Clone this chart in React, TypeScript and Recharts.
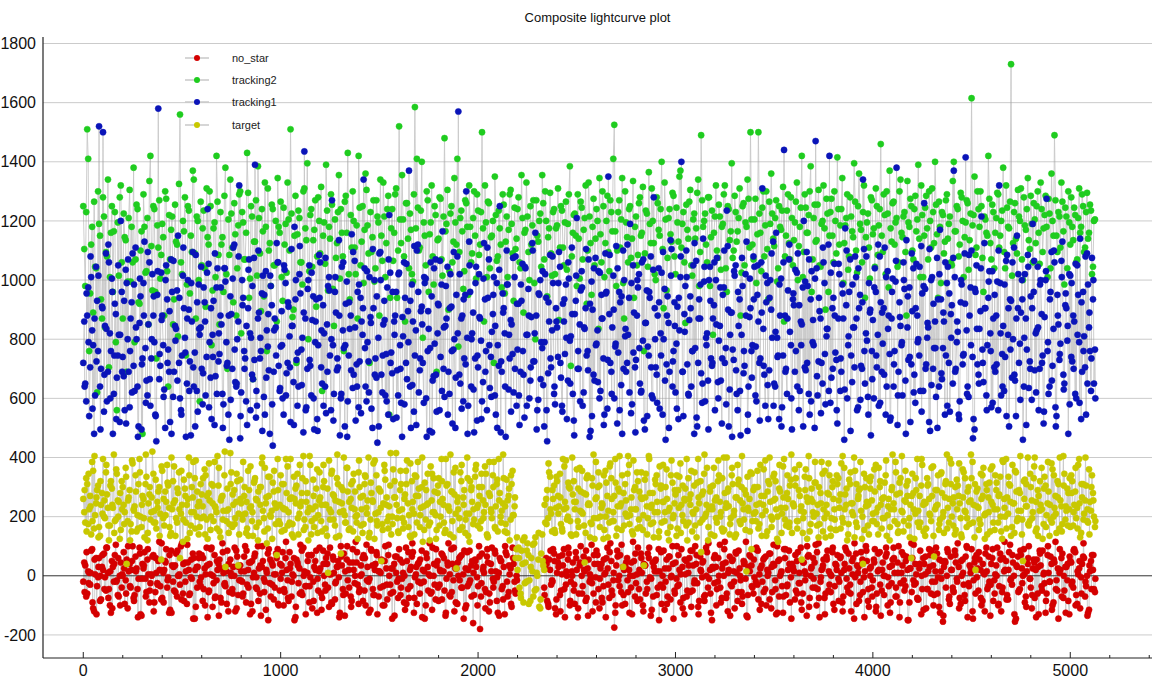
import React from "react";
import { ComposedChart, Line, XAxis, YAxis, ReferenceLine, Legend } from "recharts";

// ---- data (values read/estimated from the reference) ----
// *_A arrays: frames 0, 10, 20, ... ; *_B arrays: frames 5, 15, 25, ... ; *_C arrays: frames 7, 17, 27, ...
const FRAME_STEP = 10;
const FRAME_OFFSET_B = 5;
const FRAME_OFFSET_C = 7;

const NO_STAR_A: (number | null)[] = [
  -20, 35, -60, 10, 85, -110, 5, -35, 60, -80, 20, -5, 95, -45, -125, 30, 70, -15, -70, 45,
  0, -95, 55, 15, -40, 100, -65, 25, -10, -130, 40, 80, -55, 5, -25, 65, -90, 10, 50, -35,
  -75, 20, 90, -5, -115, 35, -50, 75, 0, -30, 110, -85, 15, 45, -60, -10, 60, -105, 30, -20,
  70, -45, 5, -140, 40, 95, -25, -70, 20, 55, -90, 10, -35, 85, -55, 0, 30, -120, 65, -15,
  15, -60, 100, -30, 45, -95, -5, 75, -45, 25, -135, 50, -20, 10, 90, -70, 35, -40, 60, -100,
  -10, 80, -55, 20, -85, 40, 5, -150, 55, -25, 105, -65, 15, -35, 70, -5, -110, 30, 85, -50,
  25, -75, 0, 60, -40, 95, -95, 10, -20, 50, -125, 35, 75, -60, -15, 45, -85, 20, 115, -30,
  -45, 5, 70, -100, 30, -10, 85, -65, 40, -130, 15, 55, -35, 100, -80, 0, 25, -55, 65, -20,
  90, -40, 10, -115, 50, -75, 30, 80, -5, -95, 45, -25, 20, -145, 60, 5, -60, 95, -30, 35,
  -85, 15, 70, -50, -10, 110, -70, 40, -120, 25, 0, 65, -40, 85, -100, 20, -15, 50, -65, 30,
  -35, -180, 75, 10, -55, 45, -90, 95, -20, 15, -125, 60, -45, 30, 80, -70, 5, -105, 40, -60,
  null, null, null, null, null, null, null, null, null, null, null, null, null, null, 25, -85, 55, -30, 90, -110,
  10, 65, -50, 35, -140, 0, 75, -20, 45, -95, 20, -60, 100, -35, 15, -75, 55, -10, -120, 40,
  85, -45, 25, -90, 5, 60, -30, 110, -65, -175, 35, -15, 70, -100, 20, 45, -55, 0, -130, 50,
  -25, 95, -80, 10, 40, -60, 75, -5, -115, 30, 55, -40, 15, -95, 85, -20, -70, 65, 0, -145,
  45, -35, 20, 90, -75, 5, -50, 60, -105, 35, 100, -25, -85, 15, 50, -65, 80, -10, -125, 25,
  70, -45, 0, -90, 40, 115, -60, 20, -30, 55, -110, 10, 85, -15, -70, 45, -135, 30, 65, -40,
  -5, 95, -80, 25, -20, 60, -100, 10, 75, -55, 35, -130, 50, 0, -35, 90, -65, 20, -90, 40,
  15, -50, 80, -25, -115, 45, 5, 65, -75, 30, -10, 105, -45, -140, 20, 55, -60, 85, -30, 0,
  -95, 40, 70, -20, 10, -70, 95, -40, 25, -120, 60, -5, 35, -85, 80, -55, 15, 50, -105, 30,
  -15, 90, -60, 20, -135, 45, 0, 75, -35, -90, 55, 10, -70, 100, -25, 35, -50, 65, -150, 25,
  60, -30, 5, -80, 85, -45, 40, -110, 15, 70, -20, -65, 95, -5, -125, 50, 30, -40, 80, -95,
  20, -55, 45, 110, -75, 0, -30, 65, -140, 35, 90, -15, -60, 25, 55, -100, 10, 75, -45, -20,
  40, -85, 5, 95, -35, -120, 60, 20, -65, 80, -10, 45, -155, 30, -50, 70, 0, -90, 15, 100,
  -40, 25, -75, 55, -130, 35, 85, -25, -60, 10, 65, -100, 45, -15, -145, 20, 75, -50, 30, -85,
  50, -20, 90, -65, 5, -110, 40, 60, -35, -125, 15, 70, -45,
];

const NO_STAR_B: (number | null)[] = [
  45, -70, 15, -30, 90, -120, 60, -5, -85, 30, 75, -50, 10, -100, 50, -20, 105, -65, 0, -40,
  80, -15, -110, 40, 20, -75, 65, -45, 95, -135, 25, -10, 55, -90, 5, 70, -55, -25, 115, -80,
  10, 50, -40, -125, 85, -20, 35, -70, 0, 100, -60, 45, -95, 20, -5, 75, -145, 30, 60, -35,
  -85, 25, 95, -55, 5, -105, 70, -15, 40, -75, 110, -30, 15, -120, 55, -45, 0, 85, -65, 35,
  -20, 65, -90, 20, -130, 50, 10, -40, 100, -60, 30, -10, -115, 75, -25, 45, -80, 5, 90, -50,
  35, -100, 60, -15, 80, -70, 0, -140, 45, 25, -55, 95, -35, 10, -90, 70, -20, 50, -125, 15,
  -60, 85, -30, 40, -105, 5, 65, -80, 30, -5, 100, -45, -135, 55, 20, -70, 90, -25, 45, -95,
  0, 60, -50, 105, -20, -115, 35, -65, 80, 15, -40, 50, -100, 25, 70, -30, -145, 40, 10, -75,
  55, -10, -90, 95, -45, 20, 65, -125, 5, 40, -60, 85, -20, -100, 30, 110, -55, 0, -80, 50,
  -30, 75, 15, -135, 45, -65, 90, -15, 25, -95, 60, -40, 5, -110, 80, -25, 35, -160, 55, -5,
  100, -70, 20, -45, 65, -120, 40, -10, 85, -85, 10, 50, -35, -130, 70, -55, 25, 95, -20, 0,
  null, null, null, null, null, null, null, null, null, null, null, null, null, -40, 60, -95, 20, -15, 75, -130,
  45, -65, 5, 90, -30, 55, -100, 15, -50, 80, -140, 35, 0, 65, -85, 25, -20, 105, -60, -5,
  70, -110, 40, -35, 10, 95, -75, 50, -15, -125, 85, 0, -55, 30, -95, 60, 20, -40, 115, -70,
  5, -45, 75, -100, 35, -20, 60, -135, 45, 15, -65, 90, -30, 0, -115, 55, 25, -80, 100, -50,
  -10, 70, -90, 30, -130, 50, 10, -55, 85, -25, 40, -105, 65, -5, -70, 95, -40, 20, -150, 60,
  30, -20, 105, -75, 0, 45, -120, 65, -35, 15, 80, -85, 25, -55, 50, -10, -140, 70, 35, -60,
  90, -30, 5, -95, 55, -45, 20, 75, -110, 40, -15, 100, -70, 10, -125, 60, -35, 85, -5, 30,
  -80, 50, -25, 95, -60, 15, -135, 70, 0, -40, 45, -100, 110, -20, 25, -75, 65, -50, 5, 80,
  -115, 35, -10, 60, -90, 20, 85, -55, -30, 50, -145, 75, 10, -65, 40, -5, 100, -85, 25, -40,
  55, -120, 15, 80, -50, 0, 65, -100, 30, -25, 95, -70, 45, -140, 10, 70, -35, 20, -90, 110,
  -15, 40, -75, 25, -130, 60, 5, -45, 90, -60, 35, -20, 75, -105, 15, -155, 50, 0, -80, 65,
  -40, 85, -10, 30, -95, 55, -65, 100, -25, 10, -120, 45, 70, -50, 20, -85, 5, 95, -35, -135,
  60, -15, 35, -100, 75, -55, 15, 50, -80, 105, -30, 0, -145, 65, -45, 25, 90, -70, 40, -10,
  -110, 55, 20, -60, 85, -35, 5, -125, 70, -20, 40, -90, 115, -50, 10, 60, -75, 30, -15, -130,
  45, -40, 80, -95, 25, -5, 65, -70, 0, -115, 50, 20, -55,
];

const NO_STAR_C: (number | null)[] = [
  -55, 80, -25, 10, -90, 55, -130, 30, 0, 70, -45, 95, -75, 15, -110, 40, -20, 60, -100, 5,
  25, -60, 100, -35, 50, -85, 15, -140, 75, -10, 35, -70, 90, -50, 0, -120, 60, -30, 20, 110,
  -90, 45, -15, 70, -125, 30, -55, 85, 5, -80, 40, -20, 105, -65, 55, -145, 20, -40, 75, -5,
  60, -100, 35, -50, 90, 0, -75, 50, -135, 25, 80, -25, -95, 40, 10, -60, 95, -110, 30, -15,
  -70, 15, 85, -40, 45, -120, 65, -5, -85, 35, 100, -55, 20, -150, 55, -30, 5, 75, -95, 40,
  10, -45, 115, -75, 25, -20, 60, -105, 35, -60, 85, 0, -130, 50, -35, 70, -85, 20, -10, 95,
  -115, 40, -50, 75, 5, -90, 55, -25, 30, -140, 65, -65, 15, 100, -40, -105, 45, 0, 80, -55,
  35, -85, 60, -15, -125, 90, -45, 20, 70, -70, 10, -100, 50, -30, 105, -60, 25, -135, 65, -10,
  -65, 45, 0, -95, 80, -35, 110, -75, 30, -20, 55, -140, 15, 75, -50, 0, -115, 40, 90, -40,
  20, -80, 60, -125, 35, 5, -55, 95, -90, 45, -15, 70, -145, 25, -35, 85, -70, 10, 50, -100,
  65, -25, 30, -110, 90, -60, 15, -40, 75, -5, -135, 50, -80, 100, -20, 35, -95, 60, -50, -15,
  null, null, null, null, null, null, null, null, null, null, null, null, null, -65, 40, -105, 85, -20, 50, -80,
  30, -120, 70, -45, 15, 95, -85, 0, -30, 60, -110, 45, -60, 20, 85, -135, 5, -25, 70, -90,
  40, -10, -75, 55, -140, 25, 80, -50, 10, -100, 65, -35, 105, -65, 30, -15, -125, 45, 0, 75,
  -85, 20, 60, -120, 35, -45, 95, -10, -70, 50, 15, -150, 80, -40, 25, -95, 65, -5, 40, -60,
  100, -30, 5, -110, 55, -70, 35, 85, -50, -15, 70, -130, 20, 45, -85, 0, 110, -60, 30, -25,
  -100, 60, -40, 25, 90, -75, 10, -135, 50, -20, 75, -55, 0, -95, 40, 115, -65, 15, -35, 55,
  -20, 85, -115, 35, -55, 65, 0, -80, 30, 105, -45, -125, 55, 15, -70, 90, -30, 40, -145, 20,
  70, -60, 10, -90, 45, -15, 100, -105, 25, 60, -40, 80, -75, -5, 35, -130, 55, 15, -55, 95,
  -35, 20, -85, 65, -120, 40, -10, 75, -60, 5, 110, -95, 30, -20, 55, -140, 85, -45, 0, -70,
  45, -105, 75, -30, 20, -65, 95, -5, -125, 35, 60, -40, 10, -90, 80, -15, 50, -150, 25, -55,
  105, -25, -80, 40, 0, -115, 65, -45, 30, 85, -100, 15, -60, 55, -10, -135, 45, 90, -70, 20,
  -50, 70, -20, -110, 50, 10, -85, 95, -35, 25, -145, 60, -5, 80, -75, 40, -120, 15, 65, -30,
  90, -60, 0, -95, 55, -40, 115, -80, 20, -15, 70, -130, 35, -55, 85, -25, 5, -105, 60, -10,
  -65, 45, -140, 30, 75, -50, 10, -85, 100, -20, -115, 55, -45, 25, 90, -70, 0, -125, 40, 65,
  -30, 85, -100, 15, 50, -60, 110, -20, -135, 35, -45, 70, -10,
];

const TARGET_A: number[] = [
  260, 180, 310, 225, 140, 355, 205, 290, 165, 240, 395, 195, 275, 120, 320, 230, 185, 345, 250, 155,
  300, 215, 40, 265, 175, 380, 235, 150, 310, 200, 270, 130, 335, 245, 190, 420, 220, 160, 285, 210,
  355, 170, 250, 305, 135, 225, 370, 195, 280, 60, 240, 325, 180, 260, 145, 300, 215, 390, 235, 165,
  275, 200, 340, 125, 255, 310, 185, 230, 405, 150, 265, 220, 30, 295, 175, 350, 240, 195, 320, 140,
  245, 385, 210, 160, 290, 235, 135, 330, 255, 180, 300, 220, 365, 110, 270, 200, 315, 245, 70, 185,
  340, 230, 155, 280, 215, 395, 175, 260, 305, 140, 235, 330, 190, 250, 120, 375, 225, 165, 295, 205,
  265, 150, 320, 240, 10, 190, 355, 270, 130, 310, 215, 245, 400, 180, 285, 160, 230, 345, 200, 125,
  300, 225, 175, 335, 255, 145, 280, 380, 210, 170, 290, 50, 245, 325, 185, 235, 140, 360, 265, 195,
  220, 310, 160, 275, 390, 205, 130, 250, 340, 180, 295, 230, 115, 315, 240, 170, 370, 215, 285, 155,
  330, 200, 260, 145, 305, 235, 410, 185, 275, 25, 225, 350, 165, 290, 210, 135, 320, 250, 190, 375,
  240, 160, 300, 215, 345, 130, 270, 195, 385, 235, 150, 280, 220, 330, 175, 255, 120, 310, 205, 60,
  20, -40, 85, -90, 45, 110, -15, 60, -70, 130, 0, -105, 75, 35, 180, 290, 350, 210, 260, 145,
  320, 235, 175, 395, 250, 190, 300, 140, 275, 225, 360, 165, 285, 210, 45, 330, 245, 180, 305, 125,
  265, 350, 200, 240, 155, 315, 220, 380, 185, 270, 135, 295, 235, 340, 170, 255, 405, 205, 150, 290,
  225, 320, 165, 260, 35, 345, 195, 280, 240, 130, 310, 215, 370, 180, 250, 300, 145, 230, 390, 205,
  275, 160, 335, 240, 185, 295, 120, 260, 355, 210, 170, 315, 245, 80, 285, 200, 365, 225, 140, 305,
  255, 180, 340, 215, 150, 280, 400, 235, 195, 310, 130, 265, 325, 175, 245, 290, 15, 220, 350, 185,
  300, 240, 160, 375, 205, 270, 135, 320, 250, 190, 345, 225, 115, 285, 210, 395, 170, 260, 305, 145,
  235, 330, 185, 270, 55, 215, 360, 250, 150, 295, 200, 315, 240, 175, 385, 225, 130, 280, 340, 195,
  260, 155, 310, 230, 380, 180, 275, 120, 325, 245, 205, 355, 165, 290, 220, 40, 300, 250, 140, 335,
  210, 285, 175, 365, 240, 195, 315, 135, 260, 225, 410, 185, 275, 150, 330, 215, 255, 305, 170, 240,
  345, 125, 290, 220, 180, 375, 250, 160, 310, 205, 270, 65, 235, 340, 190, 280, 145, 320, 230, 395,
  200, 265, 155, 305, 245, 130, 350, 215, 285, 175, 330, 240, 20, 295, 190, 260, 365, 210, 140, 315,
  250, 180, 340, 225, 275, 150, 385, 200, 265, 310, 135, 245, 355, 185, 290, 220, 50, 325, 235, 170,
  300, 215, 400, 160, 270, 240, 125, 335, 205, 285, 190, 360, 230, 145, 310, 255, 175, 345, 220, 280,
  165, 320, 240, 195, 375, 130, 265, 210, 305, 180, 250, 340, 200,
];

const TARGET_B: number[] = [
  215, 330, 175, 270, 385, 160, 245, 305, 135, 280, 200, 350, 230, 170, 295, 410, 190, 255, 125, 320,
  240, 365, 185, 290, 150, 225, 340, 205, 395, 165, 260, 310, 120, 275, 215, 345, 180, 250, 300, 55,
  195, 285, 375, 230, 145, 320, 255, 180, 350, 210, 115, 295, 240, 400, 170, 265, 330, 200, 140, 310,
  235, 360, 190, 280, 155, 245, 385, 215, 305, 130, 270, 340, 185, 225, 415, 165, 290, 250, 35, 325,
  205, 270, 145, 355, 230, 185, 315, 260, 120, 300, 380, 195, 245, 160, 335, 220, 285, 175, 395, 240,
  150, 310, 225, 370, 180, 265, 130, 295, 345, 210, 250, 405, 165, 280, 230, 140, 325, 195, 360, 255,
  185, 300, 240, 135, 390, 215, 275, 170, 330, 250, 75, 290, 205, 365, 155, 260, 320, 225, 180, 350,
  265, 145, 310, 230, 400, 190, 255, 125, 340, 215, 285, 175, 375, 240, 160, 305, 200, 265, 415, 150,
  290, 225, 180, 355, 245, 135, 320, 210, 270, 385, 165, 300, 235, 190, 345, 120, 255, 330, 205, 280,
  170, 395, 240, 155, 310, 220, 285, 130, 365, 250, 195, 320, 265, 145, 400, 210, 290, 175, 335, 230,
  300, 185, 255, 370, 140, 280, 225, 340, 165, 310, 395, 200, 245, 150, 325, 270, 190, 355, 235, 90,
  95, -60, 40, 130, -20, 70, -85, 15, 110, -45, 55, -110, 140, 20, 260, 195, 335, 150, 305, 230,
  270, 345, 160, 225, 390, 200, 295, 135, 320, 250, 185, 365, 215, 280, 145, 340, 240, 175, 410, 260,
  195, 305, 230, 125, 355, 270, 180, 330, 215, 395, 160, 285, 245, 30, 310, 200, 375, 225, 140, 300,
  350, 190, 265, 155, 325, 235, 405, 175, 280, 215, 340, 130, 295, 250, 185, 360, 220, 165, 315, 245,
  135, 290, 380, 205, 260, 170, 330, 240, 150, 305, 225, 395, 180, 275, 345, 210, 120, 285, 235, 365,
  195, 320, 250, 160, 400, 230, 285, 140, 340, 205, 265, 375, 185, 300, 225, 155, 335, 260, 90, 290,
  215, 355, 175, 270, 240, 390, 150, 310, 200, 335, 260, 125, 295, 230, 370, 190, 280, 165, 325, 245,
  360, 185, 290, 220, 145, 335, 265, 405, 175, 250, 315, 210, 130, 280, 345, 195, 240, 380, 160, 300,
  225, 155, 330, 275, 195, 365, 240, 140, 310, 215, 400, 180, 260, 295, 125, 345, 235, 170, 320, 255,
  185, 375, 230, 300, 160, 265, 340, 205, 120, 290, 245, 385, 175, 315, 220, 150, 355, 270, 195, 60,
  280, 210, 395, 165, 305, 240, 135, 330, 260, 185, 370, 225, 290, 155, 345, 200, 265, 410, 180, 310,
  245, 140, 325, 270, 195, 360, 220, 165, 300, 255, 385, 130, 285, 230, 175, 340, 205, 310, 265, 150,
  370, 225, 290, 180, 335, 125, 260, 395, 210, 305, 165, 245, 350, 195, 280, 140, 320, 235, 400, 185,
  255, 330, 150, 290, 220, 365, 175, 305, 245, 135, 380, 200, 270, 320, 160, 235, 405, 190, 295, 225,
  340, 170, 285, 230, 395, 145, 310, 255, 185, 360, 220, 280, 165,
];

const TARGET_C: number[] = [
  290, 150, 345, 235, 185, 405, 265, 130, 320, 210, 255, 375, 170, 305, 240, 145, 360, 200, 280, 225,
  175, 335, 255, 120, 390, 220, 285, 160, 350, 240, 195, 410, 145, 300, 265, 180, 325, 230, 135, 370,
  260, 205, 315, 165, 400, 245, 135, 295, 225, 355, 190, 270, 125, 340, 215, 385, 160, 285, 250, 195,
  330, 140, 270, 380, 200, 305, 235, 160, 365, 255, 190, 420, 220, 145, 310, 275, 175, 345, 210, 260,
  190, 300, 250, 135, 370, 215, 320, 165, 285, 240, 400, 150, 265, 335, 205, 125, 355, 230, 290, 175,
  310, 225, 395, 170, 260, 140, 335, 245, 195, 375, 280, 155, 320, 215, 405, 185, 270, 235, 145, 350,
  240, 375, 160, 295, 225, 345, 190, 255, 410, 135, 300, 220, 180, 365, 250, 310, 150, 285, 205, 390,
  170, 270, 340, 210, 130, 315, 250, 390, 185, 295, 230, 155, 355, 265, 200, 415, 175, 320, 240, 145,
  355, 195, 260, 310, 165, 380, 225, 140, 335, 270, 205, 400, 155, 290, 245, 180, 345, 215, 125, 305,
  250, 320, 180, 395, 230, 140, 285, 350, 210, 265, 155, 375, 240, 190, 330, 115, 300, 225, 360, 170,
  270, 345, 195, 240, 135, 385, 215, 300, 160, 325, 255, 180, 410, 235, 145, 295, 340, 205, 265, 130,
  60, -75, 120, -25, 85, -95, 30, 105, -50, 10, 145, -80, 50, 240, 175, 380, 225, 290, 155, 335,
  210, 265, 150, 370, 230, 315, 185, 400, 250, 140, 295, 220, 355, 170, 275, 240, 130, 330, 195, 385,
  300, 165, 245, 340, 200, 130, 370, 260, 185, 315, 235, 405, 155, 280, 210, 345, 175, 265, 390, 225,
  160, 285, 350, 205, 265, 140, 395, 230, 180, 325, 250, 150, 305, 375, 215, 260, 120, 340, 195, 290,
  340, 230, 145, 305, 255, 395, 180, 275, 215, 350, 130, 265, 320, 190, 410, 240, 165, 300, 225, 135,
  265, 390, 200, 330, 155, 245, 295, 175, 365, 220, 140, 310, 255, 405, 190, 275, 230, 150, 345, 210,
  185, 300, 245, 135, 360, 220, 285, 400, 165, 255, 320, 200, 375, 145, 265, 230, 340, 180, 410, 240,
  305, 160, 375, 235, 195, 290, 125, 330, 260, 215, 385, 170, 300, 245, 150, 355, 210, 275, 135, 320,
  190, 340, 255, 160, 405, 225, 295, 175, 350, 245, 130, 310, 270, 385, 200, 155, 330, 240, 295, 185,
  360, 215, 140, 320, 260, 195, 390, 235, 165, 300, 225, 350, 145, 280, 405, 185, 250, 320, 130, 270,
  225, 330, 180, 270, 395, 150, 245, 305, 210, 365, 135, 290, 240, 175, 350, 215, 310, 160, 260, 380,
  170, 300, 225, 380, 140, 265, 330, 195, 250, 410, 180, 310, 235, 155, 345, 270, 125, 290, 215, 360,
  240, 155, 315, 270, 200, 390, 230, 160, 335, 250, 375, 145, 285, 220, 405, 190, 260, 310, 175, 345,
  195, 370, 250, 135, 320, 225, 295, 165, 385, 240, 180, 340, 210, 265, 400, 150, 305, 235, 170, 330,
  280, 215, 365, 160, 245, 310, 190, 400, 225, 140, 300, 255, 185,
];

const TRACKING1_A: number[] = [
  720, 650, 880, 540, 1010, 780, 610, 930, 1520, 700, 1500, 845, 590, 1060, 760, 480, 920, 670, 815, 1200,
  740, 560, 990, 690, 870, 1090, 625, 800, 505, 945, 735, 1130, 660, 850, 575, 1020, 790, 455, 1580, 710,
  880, 630, 1050, 765, 520, 960, 690, 835, 1150, 600, 745, 905, 470, 1000, 725, 860, 640, 1085, 555, 815,
  700, 975, 610, 1240, 790, 530, 930, 675, 1040, 750, 850, 580, 995, 720, 460, 885, 1110, 655, 800, 1320,
  620, 940, 735, 510, 1070, 805, 665, 1390, 575, 890, 760, 1015, 545, 830, 695, 980, 440, 870, 1125, 710,
  775, 600, 1035, 685, 910, 520, 845, 1180, 730, 640, 955, 805, 1435, 570, 1000, 710, 865, 495, 935, 780,
  1060, 650, 820, 550, 980, 745, 1270, 615, 890, 705, 475, 1045, 770, 920, 590, 835, 1155, 680, 525, 960,
  725, 860, 1340, 640, 790, 1010, 565, 905, 735, 450, 1090, 680, 850, 610, 975, 1220, 755, 530, 880, 695,
  1025, 585, 810, 940, 665, 1370, 500, 860, 745, 1100, 620, 895, 720, 990, 470, 835, 1060, 660, 785, 555,
  915, 740, 1165, 605, 870, 690, 1020, 515, 800, 950, 1570, 650, 880, 735, 1300, 575, 960, 820, 485, 1045,
  705, 870, 590, 1125, 760, 940, 635, 825, 1010, 545, 780, 1250, 690, 905, 470, 985, 735, 850, 620, 1080,
  765, 510, 930, 680, 1040, 815, 600, 875, 725, 1160, 560, 950, 790, 645, 1020, 455, 860, 705, 990, 580,
  840, 1095, 670, 920, 750, 530, 1005, 810, 615, 885, 1210, 700, 965, 575, 835, 745, 1070, 490, 900, 660,
  785, 1030, 625, 870, 545, 960, 1350, 720, 840, 600, 1115, 755, 925, 480, 1000, 690, 815, 1190, 580, 890,
  730, 975, 650, 1060, 525, 855, 775, 940, 610, 1280, 705, 880, 565, 1025, 800, 460, 945, 690, 1105, 760,
  620, 910, 830, 1400, 540, 980, 715, 865, 640, 1050, 770, 505, 935, 685, 1140, 590, 820, 1000, 735, 870,
  560, 1075, 795, 660, 950, 720, 1235, 505, 890, 765, 1015, 615, 845, 475, 980, 710, 1130, 640, 905, 780,
  1045, 590, 860, 735, 1310, 680, 925, 530, 1000, 805, 650, 1160, 745, 880, 570, 1440, 700, 965, 825, 495,
  915, 760, 1090, 625, 850, 1200, 695, 980, 545, 1030, 780, 1470, 610, 895, 720, 1060, 580, 835, 1420, 670,
  940, 755, 515, 1020, 690, 870, 1175, 600, 960, 745, 840, 1080, 560, 905, 710, 1340, 650, 795, 990, 475,
  865, 1040, 705, 575, 925, 785, 1110, 640, 880, 535, 1005, 760, 1380, 690, 845, 610, 970, 1135, 730, 520,
  895, 680, 1055, 800, 625, 955, 1260, 715, 840, 490, 1010, 770, 605, 935, 1170, 665, 860, 745, 1045, 555,
  915, 1370, 700, 825, 590, 985, 750, 1415, 640, 880, 1100, 530, 960, 715, 835, 1215, 655, 905, 780, 1030,
  570, 870, 690, 995, 1320, 610, 845, 740, 1085, 505, 930, 800, 660, 1150, 720, 890, 460, 1020, 765, 635,
  945, 1190, 695, 830, 560, 1000, 745, 875, 1275, 615, 960, 710, 1060, 540, 850, 785, 1130, 650, 905, 480,
  1015, 725, 860, 600, 950, 1140, 690, 810, 545, 985, 760, 1075, 650,
];

const TRACKING1_B: number[] = [
  860, 590, 975, 705, 830, 480, 1045, 760, 640, 910, 555, 1090, 690, 820, 1005, 615, 885, 745, 520, 960,
  675, 1035, 800, 570, 925, 710, 1110, 640, 855, 495, 990, 770, 610, 1060, 735, 880, 545, 950, 665, 1025,
  780, 500, 935, 690, 1070, 605, 845, 965, 720, 560, 1015, 805, 650, 900, 475, 1095, 755, 625, 985, 840,
  580, 925, 740, 1055, 670, 815, 510, 975, 725, 880, 615, 1040, 790, 545, 945, 700, 1120, 640, 860, 465,
  1000, 760, 590, 905, 820, 680, 1075, 535, 870, 735, 955, 605, 1030, 775, 480, 915, 690, 840, 1060, 625,
  895, 545, 990, 720, 810, 1105, 655, 935, 575, 1020, 765, 485, 870, 700, 1050, 610, 945, 790, 530, 1085,
  705, 915, 640, 850, 1010, 560, 780, 960, 695, 1135, 600, 830, 505, 995, 745, 880, 635, 1065, 715, 570,
  940, 815, 1040, 590, 725, 875, 500, 1000, 670, 805, 1095, 620, 930, 750, 545, 1025, 685, 860, 960, 610,
  780, 470, 1060, 720, 895, 640, 985, 555, 830, 1120, 695, 910, 585, 1005, 760, 490, 945, 675, 1070, 820,
  560, 985, 700, 845, 1045, 615, 910, 765, 500, 1080, 680, 870, 590, 950, 805, 1130, 640, 890, 735, 525,
  1020, 795, 655, 935, 560, 1070, 740, 885, 610, 990, 710, 485, 955, 820, 1100, 630, 865, 750, 1010, 575,
  920, 690, 1055, 535, 815, 970, 660, 1125, 725, 880, 595, 1000, 770, 505, 940, 685, 1085, 830, 615, 905,
  740, 1045, 575, 860, 985, 660, 795, 1110, 525, 930, 700, 850, 1030, 620, 905, 760, 470, 995, 680, 1075,
  830, 600, 950, 735, 1090, 565, 885, 690, 1015, 775, 515, 960, 645, 1100, 810, 720, 940, 550, 1050, 705,
  880, 1020, 620, 795, 495, 965, 745, 1080, 600, 905, 680, 1040, 820, 545, 970, 715, 855, 1135, 640, 925,
  785, 530, 1010, 690, 885, 1100, 615, 945, 760, 480, 1065, 720, 870, 585, 995, 805, 660, 1045, 710, 915,
  1000, 655, 845, 515, 975, 770, 1115, 630, 890, 730, 1050, 560, 935, 815, 685, 1020, 490, 875, 760, 1080,
  610, 950, 720, 1060, 835, 575, 990, 695, 900, 1130, 640, 805, 530, 1005, 745, 880, 615, 1070, 780, 935,
  690, 1025, 560, 860, 975, 705, 1095, 615, 935, 790, 500, 1040, 725, 870, 650, 990, 810, 1120, 585, 905,
  1055, 730, 870, 625, 985, 460, 915, 780, 1070, 655, 840, 1010, 570, 950, 700, 1105, 820, 605, 890, 760,
  600, 960, 815, 1080, 690, 905, 545, 1030, 750, 870, 640, 995, 510, 925, 780, 1060, 660, 840, 975, 715,
  1040, 585, 880, 745, 1115, 625, 970, 805, 520, 1000, 700, 860, 1075, 640, 935, 770, 545, 990, 720, 885,
  650, 1010, 790, 545, 925, 715, 1090, 830, 605, 975, 740, 495, 1050, 680, 895, 765, 1125, 610, 940, 820,
  1030, 705, 880, 560, 990, 750, 625, 1065, 815, 935, 670, 1110, 540, 905, 785, 1000, 640, 870, 1085, 725,
  595, 960, 820, 1045, 700, 885, 515, 1000, 760, 640, 1095, 835, 570, 950, 730, 1065, 680, 915, 795, 1020,
  740, 880, 615, 1050, 790, 530, 960, 705, 1090, 840, 625, 935, 765,
];

const TRACKING1_C: number[] = [
  640, 955, 790, 1080, 565, 870, 725, 1015, 495, 905, 680, 835, 1120, 600, 960, 745, 530, 1050, 815, 690,
  930, 515, 1070, 760, 620, 985, 840, 470, 1005, 715, 880, 585, 1095, 665, 800, 945, 540, 1030, 750, 865,
  605, 1000, 720, 895, 480, 1065, 795, 660, 940, 545, 1110, 755, 870, 625, 990, 705, 505, 925, 835, 1045,
  685, 860, 1025, 570, 905, 740, 1090, 615, 820, 975, 500, 1040, 710, 880, 595, 1005, 765, 650, 1080, 540,
  915, 700, 845, 1035, 560, 980, 730, 625, 1100, 805, 490, 950, 670, 885, 1015, 580, 830, 745, 1060, 635,
  780, 1050, 610, 925, 705, 845, 510, 1000, 755, 1115, 645, 890, 560, 970, 730, 1025, 600, 860, 490, 940,
  830, 575, 1075, 690, 965, 800, 525, 1010, 735, 880, 615, 1060, 780, 470, 925, 695, 1095, 840, 640, 985,
  550, 905, 770, 1030, 620, 855, 1105, 680, 945, 505, 1000, 745, 865, 590, 1070, 720, 960, 815, 535, 1020,
  700, 875, 580, 1055, 790, 930, 645, 1115, 510, 960, 735, 850, 1010, 600, 895, 770, 485, 1040, 680, 920,
  1065, 625, 840, 980, 545, 905, 760, 1095, 670, 820, 1020, 565, 935, 715, 480, 1050, 800, 630, 990, 745,
  875, 530, 1005, 690, 1110, 780, 605, 950, 845, 500, 1035, 725, 890, 640, 985, 815, 555, 1075, 700, 920,
  610, 985, 760, 1045, 575, 880, 705, 1100, 820, 495, 955, 665, 1030, 790, 560, 925, 735, 1080, 640, 860,
  990, 720, 555, 935, 805, 1060, 650, 885, 475, 1015, 760, 590, 975, 840, 1105, 695, 920, 540, 1040, 780,
  655, 1025, 870, 510, 955, 730, 1085, 615, 900, 785, 1040, 560, 945, 700, 835, 1120, 620, 990, 755, 485,
  1000, 770, 625, 1070, 855, 540, 960, 705, 1035, 800, 585, 925, 745, 1095, 660, 880, 500, 1015, 725, 845,
  565, 940, 1080, 690, 825, 1010, 610, 905, 760, 1125, 535, 870, 985, 650, 1045, 780, 495, 930, 720, 1060,
  850, 600, 975, 735, 1100, 580, 900, 815, 470, 1030, 695, 960, 625, 1075, 760, 880, 545, 1005, 670, 935,
  775, 1050, 525, 890, 710, 1015, 645, 940, 1090, 575, 825, 740, 985, 505, 1060, 690, 870, 1120, 600, 955,
  1035, 640, 915, 780, 505, 995, 720, 1070, 590, 865, 1005, 675, 940, 550, 1110, 750, 835, 625, 1025, 700,
  880, 560, 1055, 735, 955, 630, 1100, 810, 490, 985, 705, 870, 1040, 595, 925, 760, 1080, 545, 900, 665,
  975, 745, 1120, 585, 890, 680, 1010, 835, 525, 960, 715, 1065, 610, 875, 790, 1000, 480, 945, 740, 1090,
  620, 905, 790, 1045, 555, 980, 700, 855, 1105, 645, 920, 770, 500, 1020, 685, 890, 1060, 575, 955, 805,
  1075, 690, 860, 530, 1000, 745, 920, 615, 1085, 780, 465, 970, 835, 650, 1040, 720, 905, 560, 995, 760,
  585, 950, 715, 1100, 820, 640, 985, 540, 905, 765, 1060, 680, 870, 1020, 595, 935, 805, 510, 1045, 700,
  905, 1065, 620, 840, 985, 720, 555, 1030, 790, 935, 660, 1100, 505, 880, 750, 1010, 630, 955, 845, 580,
  990, 700, 1055, 815, 585, 925, 760, 1080, 650, 890, 735, 1000, 600,
];

const TRACKING2_A: number[] = [
  1250, 980, 1510, 760, 1120, 890, 1045, 620, 1190, 935, 1280, 840, 1080, 705, 1160, 960, 1230, 560, 1015, 1320,
  870, 1145, 690, 1210, 995, 1060, 790, 1255, 925, 1100, 480, 1180, 1030, 850, 1420, 965, 1240, 735, 1110, 1005,
  1190, 880, 1275, 640, 1070, 1215, 935, 1130, 810, 1560, 1020, 1165, 745, 1250, 955, 1095, 1340, 870, 1200, 590,
  1050, 1235, 910, 1145, 1300, 780, 1175, 1010, 1265, 850, 1120, 960, 1380, 700, 1085, 1225, 925, 1155, 1040, 1290,
  820, 1195, 1070, 1430, 940, 1250, 665, 1130, 1015, 1210, 895, 1165, 1330, 760, 1100, 980, 1240, 1050, 860, 1180,
  1265, 930, 1120, 1025, 1205, 1510, 875, 1150, 720, 1235, 1060, 985, 1310, 1135, 800, 1220, 1045, 1170, 910, 1280,
  1090, 625, 1195, 1390, 965, 1140, 1255, 845, 1075, 1230, 1005, 1160, 760, 1285, 1430, 935, 1110, 1200, 1020, 870,
  1245, 1130, 990, 1360, 1185, 720, 1095, 1270, 1040, 1215, 880, 1150, 1330, 1010, 1240, 545, 1175, 1065, 1290, 940,
  1520, 1125, 1205, 860, 1260, 1040, 1170, 995, 1585, 1410, 1100, 1235, 805, 1150, 1300, 960, 1195, 1080, 1250, 690,
  1140, 1275, 1015, 1480, 1190, 900, 1225, 1060, 1345, 1120, 775, 1210, 1165, 1030, 1260, 950, 1180, 1090, 1300, 1005,
  1235, 1120, 1500, 860, 1195, 1265, 1040, 1150, 720, 1220, 1080, 1175, 975, 1255, 1130, 1010, 1290, 1190, 930, 1105,
  1240, 1060, 1355, 890, 1170, 1215, 1000, 1120, 1270, 800, 1150, 1200, 1045, 1260, 1300, 945, 1175, 1090, 1230, 1020,
  1185, 865, 1250, 1110, 1195, 1035, 1290, 710, 1160, 1225, 980, 1140, 1265, 1070, 1210, 920, 1330, 1125, 1180, 1050,
  1240, 835, 1155, 1300, 1010, 1200, 1095, 1270, 1165, 1525, 980, 1230, 1110, 1345, 870, 1195, 1060, 1250, 1140, 940,
  1215, 1085, 1280, 1160, 760, 1235, 1045, 1190, 1310, 1125, 1000, 1260, 1150, 1400, 905, 1205, 1075, 1240, 1130, 1285,
  1020, 1195, 1350, 1110, 1230, 855, 1170, 1265, 1050, 1205, 1140, 1295, 980, 1490, 1180, 1225, 1060, 1280, 1145, 815,
  1215, 1100, 1255, 1035, 1190, 1320, 960, 1240, 1165, 1075, 1285, 1130, 1210, 880, 1250, 1050, 1180, 1275, 1500, 1120,
  1205, 990, 1500, 1160, 1245, 1080, 1300, 935, 1190, 1225, 1115, 1270, 1040, 1180, 1235, 860, 1150, 1290, 1070, 1210,
  1135, 1265, 1000, 1180, 1420, 1095, 1245, 1160, 1300, 960, 1210, 1130, 1255, 1050, 1190, 1320, 900, 1225, 1150, 1275,
  1060, 1200, 1415, 1120, 1240, 990, 1185, 1290, 1080, 1215, 1145, 1265, 1025, 1360, 1170, 1230, 940, 1195, 1110, 1280,
  1155, 1045, 1250, 1185, 1460, 1095, 1220, 1300, 975, 1175, 1260, 1120, 1210, 1060, 1340, 1145, 1230, 880, 1195, 1275,
  1100, 1240, 1165, 1390, 1010, 1220, 1150, 1285, 1070, 1200, 1310, 1125, 1255, 940, 1180, 1230, 1090, 1270, 1140, 1215,
  1050, 1400, 1165, 1240, 1120, 1280, 1010, 1195, 1260, 1135, 1615, 1220, 1085, 1300, 1180, 1250, 960, 1205, 1150, 1275,
  1070, 1230, 1160, 1295, 1110, 1200, 1380, 1040, 1245, 1175, 1730, 1125, 1260, 1090, 1215, 1310, 1000, 1185, 1240, 1135,
  1285, 1060, 1205, 1250, 1160, 1330, 1095, 1220, 1180, 1275, 1040, 1200, 1490, 1150, 1230, 1110, 1265, 985, 1215, 1300,
  1120, 1180, 1245, 1060, 1210, 1160, 1290, 1095, 1230, 1140, 1255, 1020, 1200,
];

const TRACKING2_B: number[] = [
  1105, 1230, 1410, 955, 1180, 1265, 1040, 1300, 1150, 870, 1215, 1095, 1340, 1010, 1250, 1165, 790, 1195, 1280, 1060,
  1225, 1135, 995, 1305, 1180, 1380, 1070, 1240, 920, 1165, 1290, 1025, 1210, 1335, 1115, 1250, 960, 1185, 1270, 1085,
  1145, 1300, 1030, 1220, 1170, 850, 1255, 1120, 1325, 1060, 1200, 1280, 985, 1235, 1150, 1370, 1090, 1215, 1000, 1265,
  1175, 1040, 1310, 1120, 1250, 965, 1195, 1420, 1085, 1230, 1145, 1285, 1020, 1205, 1340, 1110, 1260, 880, 1185, 1300,
  1230, 1070, 1160, 1295, 1005, 1215, 1130, 1270, 1385, 1090, 1240, 945, 1180, 1310, 1125, 1255, 1050, 1200, 1345, 1160,
  1010, 1245, 1190, 1330, 1100, 1225, 900, 1285, 1155, 1210, 1060, 1300, 1175, 1395, 1030, 1240, 1135, 1270, 1080, 1200,
  1315, 1150, 1055, 1235, 1180, 1290, 970, 1205, 1125, 1355, 1240, 1080, 1265, 1160, 1020, 1220, 1300, 1110, 1185, 1420,
  1050, 1250, 1170, 1305, 1090, 1230, 1145, 995, 1270, 1195, 1340, 1065, 1215, 1125, 1285, 940, 1240, 1160, 1310, 1100,
  1205, 1355, 1080, 1260, 1140, 1225, 1020, 1290, 1175, 1245, 1110, 1400, 1195, 1050, 1270, 1155, 1320, 985, 1220, 1135,
  1280, 1070, 1215, 1165, 1305, 1030, 1250, 1130, 1195, 1410, 1095, 1235, 970, 1270, 1180, 1320, 1060, 1210, 1150, 1290,
  1085, 1230, 1175, 1320, 1010, 1260, 1145, 1200, 1350, 1065, 1235, 1120, 1290, 955, 1215, 1170, 1305, 1090, 1245, 1140,
  1280, 1040, 1210, 1160, 1330, 1095, 1250, 1185, 990, 1270, 1130, 1225, 1355, 1070, 1200, 1145, 1295, 1015, 1240, 1175,
  1310, 1110, 1235, 1050, 1265, 1190, 1385, 1080, 1220, 1150, 1290, 1005, 1245, 1170, 1320, 1100, 1215, 950, 1275, 1140,
  1200, 1345, 1060, 1250, 1125, 1285, 1030, 1230, 1410, 1165, 1100, 1270, 1205, 990, 1300, 1145, 1240, 1075, 1335, 1180,
  1050, 1260, 1150, 1315, 1090, 1225, 1365, 1125, 1200, 1020, 1280, 1170, 1240, 1105, 1330, 965, 1210, 1155, 1295, 1080,
  1245, 1130, 1370, 1190, 1060, 1255, 1140, 1305, 1015, 1225, 1175, 1340, 1095, 1270, 1200, 1120, 1280, 980, 1235, 1160,
  1320, 1075, 1215, 1180, 1290, 1040, 1250, 1135, 1395, 1100, 1230, 1165, 1310, 1025, 1260, 1195, 1340, 1110, 1205, 1070,
  1275, 1155, 1225, 1030, 1300, 1185, 1105, 1265, 1360, 1140, 1210, 995, 1250, 1170, 1315, 1080, 1235, 1125, 1280, 1050,
  1195, 1330, 1115, 1245, 1010, 1290, 1160, 1220, 1385, 1070, 1255, 1135, 1305, 1045, 1200, 1175, 1275, 960, 1230, 1150,
  1300, 1090, 1240, 1185, 1345, 1125, 1210, 1035, 1280, 1165, 1395, 1100, 1250, 1190, 1060, 1320, 1145, 1225, 1005, 1270,
  1175, 1310, 1085, 1240, 1150, 1290, 1020, 1225, 1370, 1130, 1265, 1195, 1045, 1300, 1160, 1215, 1095, 1335, 1180, 1250,
  1070, 1285, 1205, 1140, 1320, 1010, 1245, 1175, 1300, 1110, 1230, 1400, 1155, 1265, 990, 1220, 1130, 1290, 1190, 1060,
  1335, 1165, 1250, 1080, 1295, 1200, 1145, 1270, 1035, 1225, 1185, 1350, 1110, 1240, 1300, 1075, 1215, 1160, 1420, 1125,
  1255, 1040, 1210, 1290, 1150, 1235, 1095, 1320, 1180, 1265, 1015, 1230, 1140, 1305, 1200, 1070, 1280, 1170, 1345, 1105,
  1190, 1260, 1125, 1300, 1055, 1240, 1175, 1285, 1010, 1225, 1360, 1150, 1270, 1095, 1215, 1330, 1165, 1245, 1040, 1195,
  1280, 1135, 1220, 1070, 1310, 1180, 1250, 1110, 1295, 1160, 1235, 1045, 1205,
];

const X_TICKS = [0, 200, 400, 600, 800, 1000, 1200, 1400, 1600, 1800, 2000, 2200, 2400, 2600, 2800, 3000, 3200, 3400, 3600, 3800, 4000, 4200, 4400, 4600, 4800, 5000, 5200, 5400];
const Y_TICKS = [-200, 0, 200, 400, 600, 800, 1000, 1200, 1400, 1600, 1800];

const SERIES = [
  { key: "no_star", name: "no_star", color: "#d40000" },
  { key: "tracking2", name: "tracking2", color: "#1fcc1f" },
  { key: "tracking1", name: "tracking1", color: "#0a14b8" },
  { key: "target", name: "target", color: "#c8c800" },
];

type Row = {
  frame: number;
  no_star: number | null;
  tracking2?: number;
  tracking1: number;
  target: number;
};
const data: Row[] = [];
NO_STAR_A.forEach((v, i) => {
  data.push({
    frame: i * FRAME_STEP,
    no_star: v,
    tracking2: TRACKING2_A[i],
    tracking1: TRACKING1_A[i],
    target: TARGET_A[i],
  });
  data.push({
    frame: i * FRAME_STEP + FRAME_OFFSET_B,
    no_star: NO_STAR_B[i],
    tracking2: TRACKING2_B[i],
    tracking1: TRACKING1_B[i],
    target: TARGET_B[i],
  });
  data.push({
    frame: i * FRAME_STEP + FRAME_OFFSET_C,
    no_star: NO_STAR_C[i],
    tracking1: TRACKING1_C[i],
    target: TARGET_C[i],
  });
});

const FONT = '"Liberation Sans", Arial, Helvetica, sans-serif';
const LINE_GRAY = "#c8c8c8";

const XTick = (props: any) => {
  const { x, y, payload } = props;
  const v = payload.value;
  const major = v % 1000 === 0;
  return (
    <g>
      <line x1={x} x2={x} y1={y} y2={y - (major ? 6 : 3)} stroke="#222" strokeWidth={1} />
      {major && (
        <text x={x} y={y + 18} textAnchor="middle" fontSize={16} fontFamily={FONT} fill="#111">
          {v}
        </text>
      )}
    </g>
  );
};

const LegendBox = () => (
  <div style={{ fontFamily: FONT, fontSize: 11, color: "#222" }}>
    {SERIES.map((s) => (
      <div key={s.key} style={{ display: "flex", alignItems: "center", height: 22.2 }}>
        <svg width={46} height={10} style={{ display: "block" }}>
          <line x1={0} x2={24} y1={5} y2={5} stroke={LINE_GRAY} strokeWidth={1.5} />
          <circle cx={12} cy={5} r={3} fill={s.color} />
        </svg>
        <span style={{ marginLeft: 1 }}>{s.name}</span>
      </div>
    ))}
  </div>
);

export default function App() {
  if (typeof document !== "undefined") {
    document.body.style.margin = "0";
  }
  return (
    <div style={{ position: "relative", width: 1152, height: 683, background: "#fff" }}>
      <div
        style={{
          position: "absolute",
          top: 10,
          left: 43,
          width: 1109,
          textAlign: "center",
          fontFamily: FONT,
          fontSize: 13,
          color: "#111",
          zIndex: 2,
        }}
      >
        Composite lightcurve plot
      </div>
      <ComposedChart
        width={1152}
        height={683}
        data={data}
        margin={{ top: 37, right: 0, bottom: 0, left: 0 }}
      >
        <XAxis
          dataKey="frame"
          type="number"
          domain={[-204, 5414]}
          allowDataOverflow
          ticks={X_TICKS}
          interval={0}
          tick={<XTick />}
          tickLine={false}
          tickSize={0}
          tickMargin={0}
          height={25}
          axisLine={{ stroke: "#222", strokeWidth: 1.2 }}
        />
        <YAxis
          type="number"
          domain={[-278, 1822]}
          allowDataOverflow
          ticks={Y_TICKS}
          interval={0}
          width={43}
          tickLine={false}
          tickSize={0}
          tickMargin={7}
          tick={{ fontSize: 16, fontFamily: FONT, fill: "#111" }}
          axisLine={{ stroke: "#222", strokeWidth: 1.2 }}
        />
        {SERIES.map((s) => (
          <Line
            key={s.key}
            dataKey={s.key}
            name={s.name}
            type="linear"
            stroke={LINE_GRAY}
            strokeWidth={0.9}
            dot={{ r: 3.1, fill: s.color, stroke: s.color, strokeWidth: 0.5 }}
            activeDot={false}
            isAnimationActive={false}
            connectNulls={s.key === "tracking2"}
          />
        ))}
        {Y_TICKS.filter((t) => t !== 0).map((t) => (
          <ReferenceLine key={t} y={t} stroke="rgba(160,160,160,0.55)" strokeWidth={1} />
        ))}
        <ReferenceLine y={0} stroke="#333" strokeWidth={1} />
        <Legend
          layout="vertical"
          align="center"
          verticalAlign="middle"
          content={<LegendBox />}
          wrapperStyle={{ position: "absolute", left: 185, top: 47, width: 120 }}
        />
      </ComposedChart>
    </div>
  );
}
